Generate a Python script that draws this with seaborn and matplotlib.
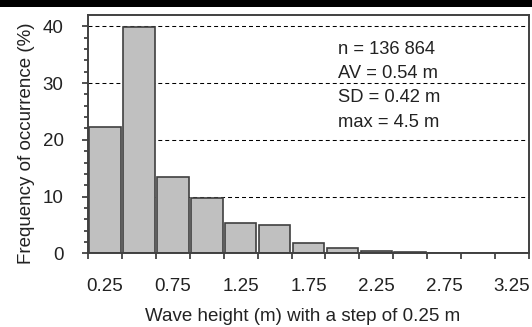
import numpy as np
import matplotlib
matplotlib.use("Agg")
import matplotlib.pyplot as plt
import matplotlib.transforms as mtransforms
import seaborn as sns
from matplotlib.patches import Rectangle

# Wave height classes (m), step 0.25 m, and frequency of occurrence (%)
classes = ["0.25", "0.50", "0.75", "1.00", "1.25", "1.50", "1.75",
           "2.00", "2.25", "2.50", "2.75", "3.00", "3.25"]
freq = [22.3, 39.9, 13.5, 9.7, 5.4, 4.9, 1.76, 1.0, 0.35, 0.15, 0.04, 0.02, 0.01]
shown_labels = classes[::2]
stats = ["n = 136 864", "AV = 0.54 m", "SD = 0.42 m", "max = 4.5 m"]

sns.set_theme(style="white")
plt.rcParams["font.family"] = ["Liberation Sans", "DejaVu Sans"]

fig = plt.figure(figsize=(5.32, 3.27), dpi=100)
ax = fig.add_axes([88 / 532, 1 - 253.3 / 327, 441 / 532, 238.3 / 327])

sns.barplot(x=classes, y=freq, order=classes, color="#c0c0c0", saturation=1,
            edgecolor="#404040", linewidth=1.2, width=0.93, ax=ax)

ax.set_xlim(-0.5, len(classes) - 0.5)
ax.set_ylim(0, 42)

# dashed horizontal grid behind bars
ax.set_axisbelow(True)
ax.yaxis.grid(True, linestyle=(0, (3.8, 2.9)), color="black", linewidth=0.75)
ax.xaxis.grid(False)

txt_col = "#222222"
fs = 13.5

# x: ticks at class boundaries, labels under every other bar
pos = np.arange(len(classes))
ax.set_xticks(np.arange(-0.5, len(classes), 1))
ax.set_xticklabels([])
ax.set_xticks(pos[::2], labels=shown_labels, minor=True)
ax.tick_params(axis="x", which="major", direction="out", length=4, width=1.2,
               color="#333333", bottom=True)
ax.tick_params(axis="x", which="minor", length=0, pad=17.5, labelsize=fs,
               labelcolor=txt_col, bottom=True)

# y: major every 10, minor every 2
ax.set_yticks([0, 10, 20, 30, 40])
ax.set_yticks(np.arange(0, 42, 2), minor=True)
ax.tick_params(axis="y", which="major", direction="out", length=4.5, width=1.2,
               color="#333333", pad=13, labelsize=fs, labelcolor=txt_col, left=True)
ax.tick_params(axis="y", which="minor", direction="out", length=3, width=1.2,
               color="#333333", left=True)

for s in ax.spines.values():
    s.set_visible(True)
    s.set_color("#404040")
    s.set_linewidth(1.4)

ax.set_xlabel("Wave height (m) with a step of 0.25 m", fontsize=fs, color=txt_col)
ax.set_ylabel("Frequency of occurrence (%)", fontsize=fs, color=txt_col)
ax.xaxis.set_label_coords(0.486, -0.23)
ax.yaxis.set_label_coords(-0.12, 0.46)

# statistics block
blend = mtransforms.blended_transform_factory(ax.transAxes, ax.transData)
for k, line in enumerate(stats):
    ax.text(0.567, 35.2 - k * 4.3, line, transform=blend,
            fontsize=13.2, color=txt_col, ha="left", va="baseline")

# dark strip along the top edge of the picture
fig.patches.append(Rectangle((0, 1 - 7 / 327), 1, 7 / 327, transform=fig.transFigure,
                             facecolor="black", edgecolor="none", zorder=10))

fig.savefig("out.png", dpi=100)
